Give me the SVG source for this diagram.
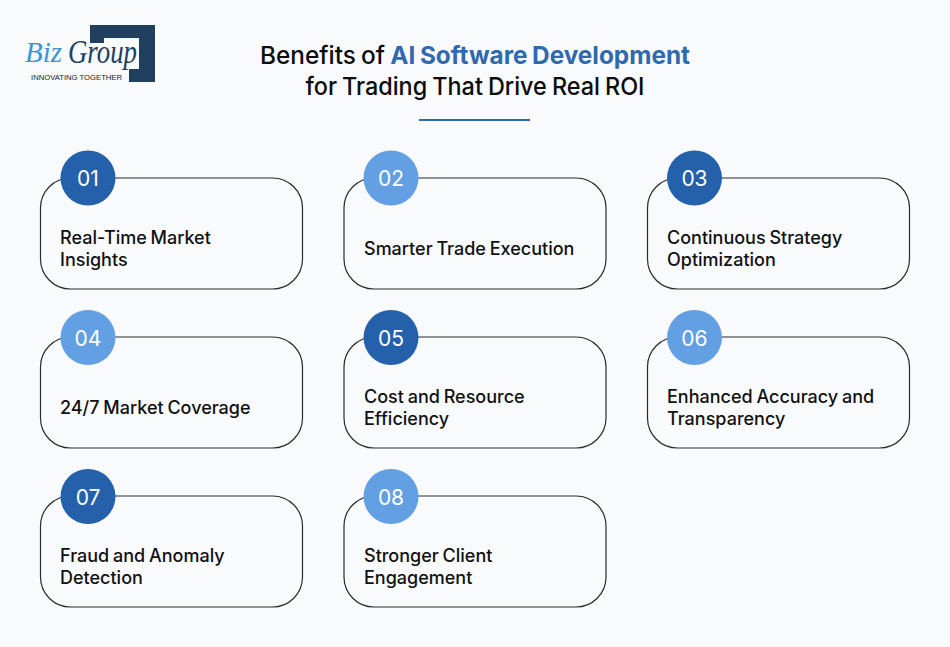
<svg xmlns="http://www.w3.org/2000/svg" width="950" height="647" viewBox="0 0 950 647">
<style>
.card{fill:#f8fafc;stroke:#2b2b2b;stroke-width:1.2}
.dark{fill:#2560ab}
.light{fill:#63a0e3}
.num{font:400 21px Inter,"Liberation Sans",sans-serif;fill:#fff;text-anchor:middle}
.lab{font:500 18px Inter,"Liberation Sans",sans-serif;word-spacing:-1px;fill:#111}
.title{font:500 24.4px Inter,"Liberation Sans",sans-serif;word-spacing:-1.2px;fill:#0c0c0c;text-anchor:middle}
</style>
<rect width="950" height="647" fill="#f8fafc"/>
<g id="logo">
<path d="M90 25H155V82H129V69H139V38H104V43H90Z" fill="#21405f"/>
<text x="25" y="62" font-family="'Liberation Serif',serif" font-style="italic" font-size="30" fill="#3b93d6" textLength="37" lengthAdjust="spacingAndGlyphs">Biz</text>
<text x="68" y="63" font-family="'Liberation Serif',serif" font-style="italic" font-size="33" fill="#21405f" textLength="69" lengthAdjust="spacingAndGlyphs">Group</text>
<text x="31" y="80" font-family="'Liberation Sans',sans-serif" font-size="7.6" fill="#222" textLength="91" lengthAdjust="spacingAndGlyphs">INNOVATING TOGETHER</text>
</g>
<g id="title">
<text class="title" x="475" y="64" textLength="430" lengthAdjust="spacingAndGlyphs">Benefits of <tspan font-weight="700" fill="#2f69ae">AI Software Development</tspan></text>
<text class="title" x="475" y="95" textLength="339" lengthAdjust="spacingAndGlyphs">for Trading That Drive Real ROI</text>
<rect x="419" y="119" width="111" height="2" fill="#2f69ae"/>
</g>
<g id="node-01"><rect class="card" x="40.5" y="178" width="262" height="111" rx="30"/><circle class="dark" cx="88" cy="178" r="27.5"/><text class="num" x="88" y="186">01</text><text class="lab" x="60" y="243.500">Real-Time Market</text><text class="lab" x="60" y="265.500">Insights</text></g>
<g id="node-02"><rect class="card" x="344" y="178" width="262" height="111" rx="30"/><circle class="light" cx="391" cy="178" r="27.5"/><text class="num" x="391" y="186">02</text><text class="lab" x="364" y="254.500">Smarter Trade Execution</text></g>
<g id="node-03"><rect class="card" x="647.500" y="178" width="262" height="111" rx="30"/><circle class="dark" cx="694.500" cy="178" r="27.500"/><text class="num" x="694.500" y="186">03</text><text class="lab" x="667" y="243.500">Continuous Strategy</text><text class="lab" x="667" y="265.500">Optimization</text></g>
<g id="node-04"><rect class="card" x="40.5" y="337" width="262" height="111" rx="30"/><circle class="light" cx="88" cy="337.500" r="27.500"/><text class="num" x="88" y="345.500">04</text><text class="lab" x="60" y="413.500">24/7 Market Coverage</text></g>
<g id="node-05"><rect class="card" x="344" y="337" width="262" height="111" rx="30"/><circle class="dark" cx="391" cy="337.500" r="27.500"/><text class="num" x="391" y="345.500">05</text><text class="lab" x="364" y="402.500">Cost and Resource</text><text class="lab" x="364" y="424.500">Efficiency</text></g>
<g id="node-06"><rect class="card" x="647.500" y="337" width="262" height="111" rx="30"/><circle class="light" cx="694.500" cy="337.500" r="27.500"/><text class="num" x="694.500" y="345.500">06</text><text class="lab" x="667" y="402.500">Enhanced Accuracy and</text><text class="lab" x="667" y="424.500">Transparency</text></g>
<g id="node-07"><rect class="card" x="40.5" y="496" width="262" height="111" rx="30"/><circle class="dark" cx="88" cy="496.500" r="27.500"/><text class="num" x="88" y="504.500">07</text><text class="lab" x="60" y="561.500">Fraud and Anomaly</text><text class="lab" x="60" y="583.500">Detection</text></g>
<g id="node-08"><rect class="card" x="344" y="496" width="262" height="111" rx="30"/><circle class="light" cx="391" cy="496.500" r="27.500"/><text class="num" x="391" y="504.500">08</text><text class="lab" x="364" y="561.500">Stronger Client</text><text class="lab" x="364" y="583.500">Engagement</text></g>
<g id="connectors"/>
</svg>
